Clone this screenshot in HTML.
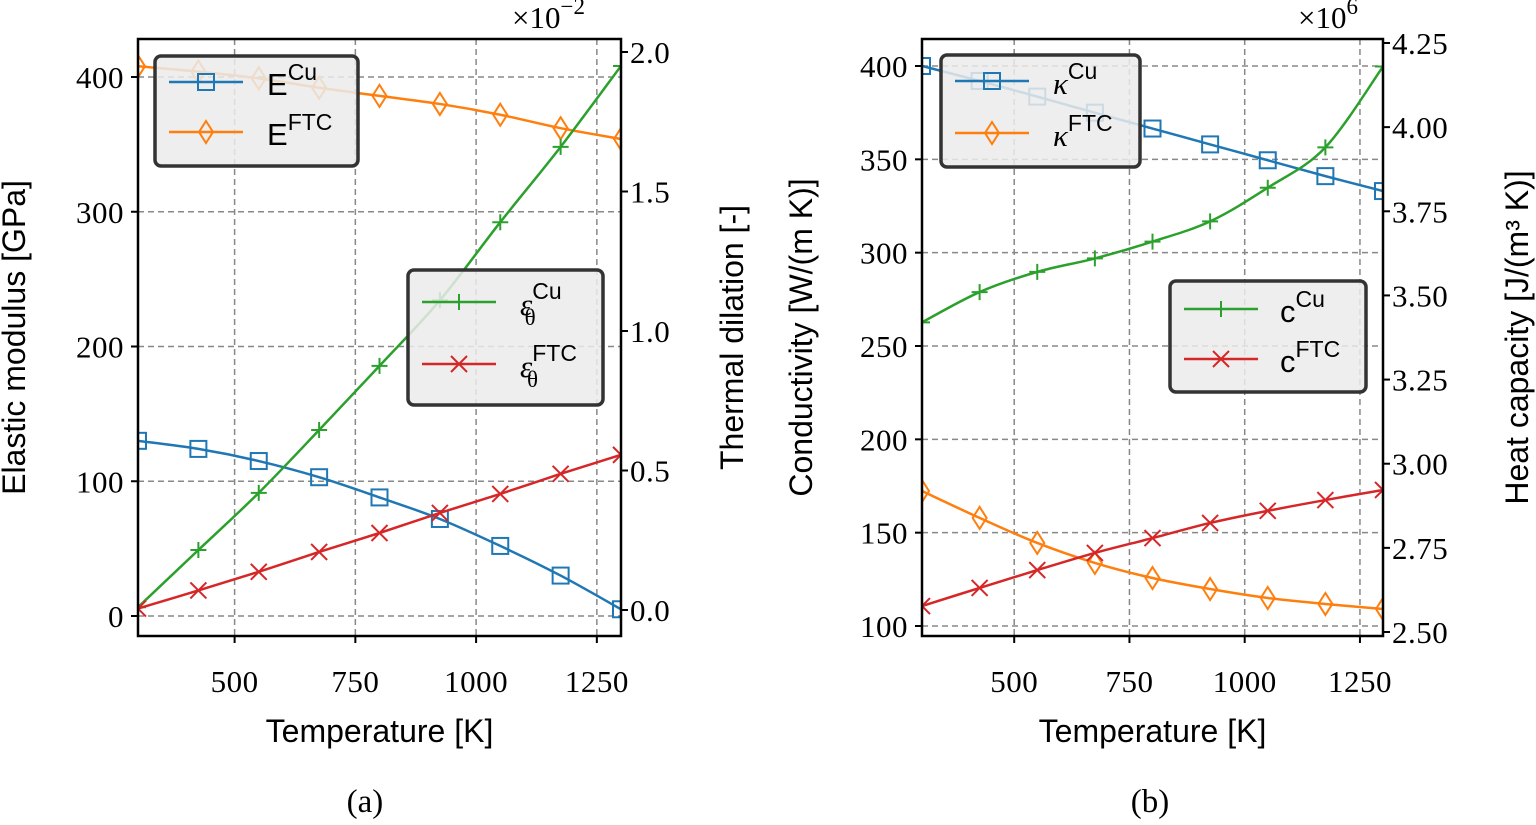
<!DOCTYPE html>
<html><head><meta charset="utf-8"><style>
body{margin:0;background:#fff}
svg text{font-family:"Liberation Serif",serif}
.s{font-family:"Liberation Sans",sans-serif}
</style></head><body>
<svg id="c" width="1536" height="820" xmlns="http://www.w3.org/2000/svg"></svg>
<script>
const temps=[300,425,550,675,800,925,1050,1175,1300];
const eCu=[130,124,115,103,88,72,52,30,5];
const eFTC=[408,404,399,392,386,380,372,362,354];
const epsCu=[0.01,0.215,0.42,0.645,0.875,1.11,1.39,1.66,1.95];
const epsFTC=[0.005,0.07,0.137,0.208,0.276,0.348,0.416,0.488,0.556];
const kCu=[400,392,383.6,375,366.5,358,349.5,341,333];
const kFTC=[172.3,157.9,144.5,133.8,125.7,119.8,115,111.8,109.1];
const cCu=[3.42,3.51,3.57,3.61,3.66,3.72,3.82,3.94,4.18];
const cFTC=[2.577,2.631,2.684,2.735,2.779,2.824,2.86,2.892,2.922];
const xTicks=[500,750,1000,1250];
const eTicks=[0,100,200,300,400];
const epsTicks=[0,0.5,1.0,1.5,2.0];
const kTicks=[100,150,200,250,300,350,400];
const cTicks=[2.5,2.75,3.0,3.25,3.5,3.75,4.0,4.25];

const NS="http://www.w3.org/2000/svg";
const svg=document.getElementById('c');
function el(t,a,p){const e=document.createElementNS(NS,t);for(const k in a)e.setAttribute(k,a[k]);(p||svg).appendChild(e);return e;}
function txt(s,a,p){const e=el('text',a,p);e.textContent=s;return e;}
const COL={b:'#1f77b4',o:'#ff7f0e',g:'#2ca02c',r:'#d62728'};

function lin(d0,d1,p0,p1){return v=>p0+(v-d0)*(p1-p0)/(d1-d0);}
function smooth(pts){let d=`M${pts[0][0]},${pts[0][1]}`;for(let i=0;i<pts.length-1;i++){const p0=pts[i-1]||pts[i],p1=pts[i],p2=pts[i+1],p3=pts[i+2]||p2;d+=` C${p1[0]+(p2[0]-p0[0])/6},${p1[1]+(p2[1]-p0[1])/6} ${p2[0]-(p3[0]-p1[0])/6},${p2[1]-(p3[1]-p1[1])/6} ${p2[0]},${p2[1]}`;}return d;}
function marker(g,m,x,y,c){
 if(m==='s')return el('rect',{x:x-8,y:y-8,width:16,height:16,fill:'none',stroke:c,'stroke-width':2},g);
 if(m==='d')return el('path',{d:`M${x},${y-11}L${x+7},${y}L${x},${y+11}L${x-7},${y}Z`,fill:'none',stroke:c,'stroke-width':2},g);
 if(m==='+')return el('path',{d:`M${x-8},${y}H${x+8}M${x},${y-8}V${y+8}`,stroke:c,'stroke-width':2},g);
 return el('path',{d:`M${x-8},${y-8}L${x+8},${y+8}M${x-8},${y+8}L${x+8},${y-8}`,stroke:c,'stroke-width':2},g);
}
function series(name,xs,ys,xf,yf,c,m,clip){
 const g=el('g',{'clip-path':`url(#${clip})`});
 
 
 const pts=xs.map((t,i)=>[xf(t),yf(ys[i])]);
 el('path',{d:smooth(pts),fill:'none',stroke:c,'stroke-width':2.5},g);
 pts.forEach(p=>marker(g,m,p[0],p[1],c));
}
function legend(name,x,y,w,h,items){
 const g=el('g',{});
 
 
 el('rect',{x,y,width:w,height:h,rx:6,fill:'#ebebeb','fill-opacity':0.85,stroke:'#333','stroke-width':3.5},g);
 items.forEach((it,i)=>{const yy=y+it.y;
  el('line',{x1:x+14,x2:x+88,y1:yy,y2:yy,stroke:it.c,'stroke-width':2.5},g);
  marker(g,it.m,x+51,yy,it.c);
  const t=el('text',{x:x+it.tx,y:yy+13,'font-size':31},g);
  t.innerHTML=it.label;
 });
}
const defs=el('defs',{});
function panel(P){
 const {L,R,T,B}=P;
 const cp=el('clipPath',{id:P.id},defs);
 el('rect',{x:L,y:T,width:R-L,height:B-T},cp);
 const xf=lin(300,1300,L,R);
 const gr=el('g',{stroke:'#888','stroke-width':1.5,'stroke-dasharray':'6,4'});
 
 xTicks.forEach(t=>el('line',{x1:xf(t),x2:xf(t),y1:T,y2:B},gr));
 P.lt.forEach(t=>el('line',{x1:L,x2:R,y1:P.ly(t),y2:P.ly(t)},gr));
 P.series(xf);
 el('rect',{x:L,y:T,width:R-L,height:B-T,fill:'none',stroke:'#000','stroke-width':2.5});
 const ta=el('g',{'font-size':31,'letter-spacing':'0.5'});
 
 xTicks.forEach(t=>{el('line',{x1:xf(t),x2:xf(t),y1:B,y2:B+7,stroke:'#000','stroke-width':2},ta);txt(String(t),{x:xf(t),y:B+56,'text-anchor':'middle'},ta);});
 P.lt.forEach(t=>{el('line',{x1:L-7,x2:L,y1:P.ly(t),y2:P.ly(t),stroke:'#000','stroke-width':2},ta);txt(P.lfmt(t),{x:L-14,y:P.ly(t)+11,'text-anchor':'end'},ta);});
 P.rt.forEach(t=>{el('line',{x1:R,x2:R+7,y1:P.ry(t),y2:P.ry(t),stroke:'#000','stroke-width':2},ta);txt(P.rfmt(t),{x:R+9,y:P.ry(t)+11},ta);});
 txt('Temperature [K]',{x:(L+R)/2,y:742,'text-anchor':'middle','font-size':32,class:'s',});
 txt(P.ltitle,{transform:`translate(${P.ltx},${(T+B)/2}) rotate(-90)`,'text-anchor':'middle','font-size':32,class:'s',});
 txt(P.rtitle,{transform:`translate(${P.rtx},${(T+B)/2}) rotate(-90)`,'text-anchor':'middle','font-size':32,class:'s',});
 const m=el('text',{x:P.mx,y:28,'font-size':31});m.innerHTML=P.mult;
 
 txt(P.cap,{x:P.capx,y:812,'text-anchor':'middle','font-size':33,});
}
const A={id:'pa',L:138,R:621,T:39,B:636};
A.ly=lin(0,400,616,77);A.ry=lin(0,2,610,52);A.lt=eTicks;A.rt=epsTicks;
A.lfmt=t=>String(t);A.rfmt=t=>t.toFixed(1);
A.ltitle='Elastic modulus [GPa]';A.ltx=25;A.rtitle='Thermal dilation [-]';A.rtx=743;
A.mx=512;A.mult='×10<tspan dy="-14" font-size="23">−2</tspan>';A.cap='(a)';A.capx=365;
A.series=xf=>{
 series('e-cu-line',temps,eCu,xf,A.ly,COL.b,'s','pa');
 series('e-ftc-line',temps,eFTC,xf,A.ly,COL.o,'d','pa');
 series('eps-cu-line',temps,epsCu,xf,A.ry,COL.g,'+','pa');
 series('eps-ftc-line',temps,epsFTC,xf,A.ry,COL.r,'x','pa');
};
panel(A);
legend('legend-elastic',155,56,203,110,[
 {c:COL.b,m:'s',y:26,tx:112,label:'<tspan class="s">E</tspan><tspan class="s" dy="-15" font-size="23">Cu</tspan>'},
 {c:COL.o,m:'d',y:76,tx:112,label:'<tspan class="s">E</tspan><tspan class="s" dy="-15" font-size="23">FTC</tspan>'}]);
legend('legend-thermal',408,270,195,135,[
 {c:COL.g,m:'+',y:32,tx:112,label:'<tspan font-style="italic">ε</tspan><tspan class="s" dy="-16" font-size="23">Cu</tspan><tspan dx="-37" dy="26" font-size="23">θ</tspan>'},
 {c:COL.r,m:'x',y:94,tx:112,label:'<tspan font-style="italic">ε</tspan><tspan class="s" dy="-16" font-size="23">FTC</tspan><tspan dx="-50" dy="26" font-size="23">θ</tspan>'}]);

const Bp={id:'pb',L:922,R:1383,T:39,B:636};
Bp.ly=lin(100,400,626,66);Bp.ry=lin(2.5,4.25,632,43);Bp.lt=kTicks;Bp.rt=cTicks;
Bp.lfmt=t=>String(t);Bp.rfmt=t=>t.toFixed(2);
Bp.ltitle='Conductivity [W/(m K)]';Bp.ltx=812;Bp.rtitle='Heat capacity [J/(m³ K)]';Bp.rtx=1528;
Bp.mx=1298;Bp.mult='×10<tspan dy="-14" font-size="23">6</tspan>';Bp.cap='(b)';Bp.capx=1150;
Bp.series=xf=>{
 series('k-cu-line',temps,kCu,xf,Bp.ly,COL.b,'s','pb');
 series('k-ftc-line',temps,kFTC,xf,Bp.ly,COL.o,'d','pb');
 series('c-cu-line',temps,cCu,xf,Bp.ry,COL.g,'+','pb');
 series('c-ftc-line',temps,cFTC,xf,Bp.ry,COL.r,'x','pb');
};
panel(Bp);
legend('legend-conductivity',941,55,199,112,[
 {c:COL.b,m:'s',y:26,tx:112,label:'<tspan font-style="italic">κ</tspan><tspan class="s" dy="-15" font-size="23">Cu</tspan>'},
 {c:COL.o,m:'d',y:78,tx:112,label:'<tspan font-style="italic">κ</tspan><tspan class="s" dy="-15" font-size="23">FTC</tspan>'}]);
legend('legend-capacity',1170,281,196,111,[
 {c:COL.g,m:'+',y:28,tx:110,label:'<tspan class="s">c</tspan><tspan class="s" dy="-15" font-size="23">Cu</tspan>'},
 {c:COL.r,m:'x',y:78,tx:110,label:'<tspan class="s">c</tspan><tspan class="s" dy="-15" font-size="23">FTC</tspan>'}]);
</script>
</body></html>
